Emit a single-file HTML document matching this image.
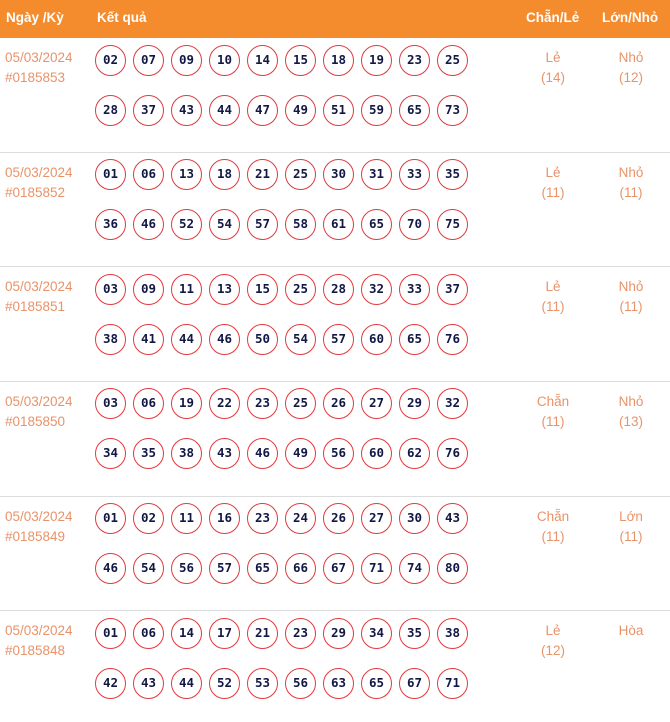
<!DOCTYPE html>
<html><head><meta charset="utf-8">
<style>
*{margin:0;padding:0;box-sizing:border-box}
html,body{width:670px;height:722px;background:#fff;overflow:hidden}
body{position:relative;font-family:"Liberation Sans","DejaVu Sans",sans-serif}
.hdr{position:absolute;left:0;top:0;width:670px;height:38px;background:#f48b2c;color:#fff;font-weight:bold;font-size:13.5px}
.hdr span{position:absolute;top:10px;line-height:16px;white-space:nowrap}
.row{position:absolute;left:0;width:670px;height:114.65px;border-bottom:1px solid #dcdcdc}
.date{position:absolute;left:5px;top:10px;font-size:13.5px;line-height:20px;color:#e8936a}
.balls{position:absolute;left:95px;top:6.5px}
.line{display:flex;gap:7px;height:31px;margin-bottom:19px}
.b{width:31px;height:31px;border:1.5px solid #e03a3f;border-radius:50%;text-align:center;line-height:28px;font-family:"DejaVu Sans Mono","Liberation Mono",monospace;font-weight:bold;font-size:12.5px;color:#121845}
.c{position:absolute;top:10px;width:80px;text-align:center;font-size:13.5px;line-height:20px;color:#e8936a}
.c1{left:513px}.c2{left:591px}
</style></head><body>
<div class="hdr"><span style="left:6px">Ngày /Kỳ</span><span style="left:97px">Kết quả</span><span style="left:526px">Chẵn/Lẻ</span><span style="left:602px">Lớn/Nhỏ</span></div>

<div class="row" style="top:38px">
<div class="date">05/03/2024<br>#0185853</div>
<div class="balls">
<div class="line"><div class="b">02</div><div class="b">07</div><div class="b">09</div><div class="b">10</div><div class="b">14</div><div class="b">15</div><div class="b">18</div><div class="b">19</div><div class="b">23</div><div class="b">25</div></div>
<div class="line"><div class="b">28</div><div class="b">37</div><div class="b">43</div><div class="b">44</div><div class="b">47</div><div class="b">49</div><div class="b">51</div><div class="b">59</div><div class="b">65</div><div class="b">73</div></div>
</div>
<div class="c c1">Lẻ<br>(14)</div><div class="c c2">Nhỏ<br>(12)</div>
</div>

<div class="row" style="top:152.65px">
<div class="date">05/03/2024<br>#0185852</div>
<div class="balls">
<div class="line"><div class="b">01</div><div class="b">06</div><div class="b">13</div><div class="b">18</div><div class="b">21</div><div class="b">25</div><div class="b">30</div><div class="b">31</div><div class="b">33</div><div class="b">35</div></div>
<div class="line"><div class="b">36</div><div class="b">46</div><div class="b">52</div><div class="b">54</div><div class="b">57</div><div class="b">58</div><div class="b">61</div><div class="b">65</div><div class="b">70</div><div class="b">75</div></div>
</div>
<div class="c c1">Lẻ<br>(11)</div><div class="c c2">Nhỏ<br>(11)</div>
</div>

<div class="row" style="top:267.3px">
<div class="date">05/03/2024<br>#0185851</div>
<div class="balls">
<div class="line"><div class="b">03</div><div class="b">09</div><div class="b">11</div><div class="b">13</div><div class="b">15</div><div class="b">25</div><div class="b">28</div><div class="b">32</div><div class="b">33</div><div class="b">37</div></div>
<div class="line"><div class="b">38</div><div class="b">41</div><div class="b">44</div><div class="b">46</div><div class="b">50</div><div class="b">54</div><div class="b">57</div><div class="b">60</div><div class="b">65</div><div class="b">76</div></div>
</div>
<div class="c c1">Lẻ<br>(11)</div><div class="c c2">Nhỏ<br>(11)</div>
</div>

<div class="row" style="top:381.95px">
<div class="date">05/03/2024<br>#0185850</div>
<div class="balls">
<div class="line"><div class="b">03</div><div class="b">06</div><div class="b">19</div><div class="b">22</div><div class="b">23</div><div class="b">25</div><div class="b">26</div><div class="b">27</div><div class="b">29</div><div class="b">32</div></div>
<div class="line"><div class="b">34</div><div class="b">35</div><div class="b">38</div><div class="b">43</div><div class="b">46</div><div class="b">49</div><div class="b">56</div><div class="b">60</div><div class="b">62</div><div class="b">76</div></div>
</div>
<div class="c c1">Chẵn<br>(11)</div><div class="c c2">Nhỏ<br>(13)</div>
</div>

<div class="row" style="top:496.6px">
<div class="date">05/03/2024<br>#0185849</div>
<div class="balls">
<div class="line"><div class="b">01</div><div class="b">02</div><div class="b">11</div><div class="b">16</div><div class="b">23</div><div class="b">24</div><div class="b">26</div><div class="b">27</div><div class="b">30</div><div class="b">43</div></div>
<div class="line"><div class="b">46</div><div class="b">54</div><div class="b">56</div><div class="b">57</div><div class="b">65</div><div class="b">66</div><div class="b">67</div><div class="b">71</div><div class="b">74</div><div class="b">80</div></div>
</div>
<div class="c c1">Chẵn<br>(11)</div><div class="c c2">Lớn<br>(11)</div>
</div>

<div class="row" style="top:611.25px;border-bottom:none">
<div class="date">05/03/2024<br>#0185848</div>
<div class="balls">
<div class="line"><div class="b">01</div><div class="b">06</div><div class="b">14</div><div class="b">17</div><div class="b">21</div><div class="b">23</div><div class="b">29</div><div class="b">34</div><div class="b">35</div><div class="b">38</div></div>
<div class="line"><div class="b">42</div><div class="b">43</div><div class="b">44</div><div class="b">52</div><div class="b">53</div><div class="b">56</div><div class="b">63</div><div class="b">65</div><div class="b">67</div><div class="b">71</div></div>
</div>
<div class="c c1">Lẻ<br>(12)</div><div class="c c2">Hòa</div>
</div>
</body></html>
